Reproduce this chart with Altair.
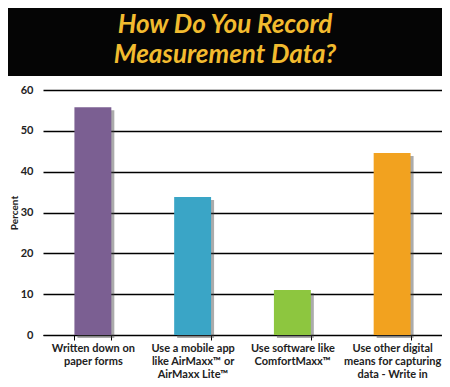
import altair as alt
import pandas as pd

CATEGORIES = [
    "Written down on\npaper forms",
    "Use a mobile app\nlike AirMaxx™ or\nAirMaxx Lite™",
    "Use software like\nComfortMaxx™",
    "Use other digital\nmeans for capturing\ndata - Write in",
]
PERCENT = [55.8, 33.8, 11.0, 44.6]
COLORS = ["#7B5F92", "#3AA5C6", "#8DC63F", "#F2A21F"]
TITLE_LINES = ["How Do You Record", "Measurement Data?"]
Y_TICKS = [0, 10, 20, 30, 40, 50, 60]

df = pd.DataFrame({"cat": CATEGORIES, "pct": PERCENT})

W, H = 399, 245

x = alt.X(
    "cat:N",
    sort=CATEGORIES,
    scale=alt.Scale(paddingInner=0.63, paddingOuter=0.315),
    axis=alt.Axis(
        title=None,
        labelAngle=0,
        labelFont="Lato",
        labelFontWeight="bold",
        labelFontSize=11,
        labelColor="#222222",
        labelLineHeight=13,
        labelPadding=2,
        labelExpr="split(datum.label, '\\n')",
        labelBaseline="top",
        tickBand="extent",
        tickSize=5,
        tickColor="#000000",
        domainColor="#000000",
        domainWidth=1.2,
        grid=False,
    ),
)
y = alt.Y(
    "pct:Q",
    scale=alt.Scale(domain=[0, 60], nice=False),
    axis=alt.Axis(
        values=Y_TICKS,
        title="Percent",
        titleFont="Lato",
        titleFontWeight="bold",
        titleFontSize=10,
        titleColor="#222222",
        titlePadding=1,
        labelFont="Lato",
        labelFontSize=11,
        labelFontWeight="bold",
        labelColor="#222222",
        labelPadding=10,
        domain=False,
        ticks=False,
        grid=True,
        gridColor="#000000",
        gridWidth=1.3,
    ),
)

color = alt.Color(
    "cat:N", sort=CATEGORIES, scale=alt.Scale(domain=CATEGORIES, range=COLORS), legend=None
)

base = alt.Chart(df)

shadow = base.mark_bar(color="#444444", opacity=0.45, xOffset=3, yOffset=3).encode(x=x, y=y)
bars = base.mark_bar().encode(x=x, y=y, color=color)

band = alt.Chart(pd.DataFrame({"a": [0]})).mark_rect(color="#050505").encode(
    x=alt.value(-35), x2=alt.value(W), y=alt.value(-82), y2=alt.value(-14)
)
title = alt.Chart(pd.DataFrame({"a": [0]})).mark_text(
    font="Lato",
    fontSize=26,
    fontWeight="bold",
    fontStyle="italic",
    color="#F2BB2F",
    align="center",
    baseline="alphabetic",
    lineHeight=30,
).encode(x=alt.value(182), y=alt.value(-57), text=alt.value(TITLE_LINES))

chart = (
    alt.layer(band, title, shadow, bars)
    .properties(
        width=W,
        height=H,
        autosize=alt.AutoSizeParams(type="none"),
        padding={"left": 35, "top": 82, "right": 0, "bottom": 44},
        background="white",
    )
    .configure_view(stroke=None)
)

chart.save("out.html", embed_options={"renderer": "svg", "actions": False})
